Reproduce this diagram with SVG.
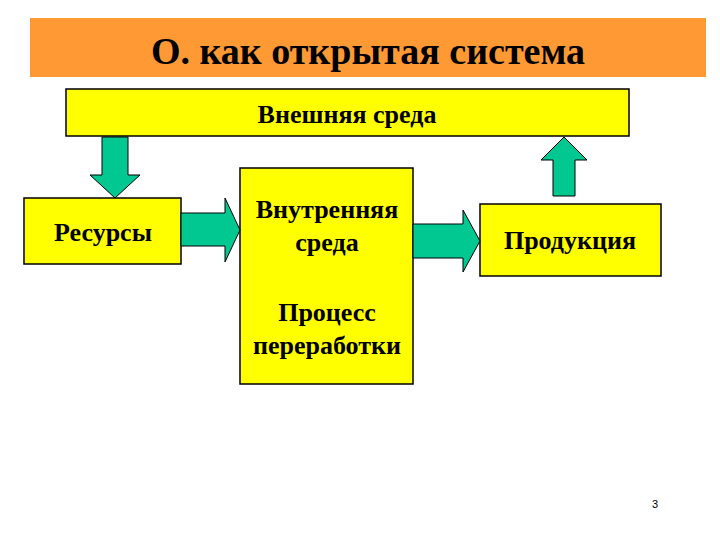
<svg xmlns="http://www.w3.org/2000/svg" width="720" height="540" viewBox="0 0 720 540">
<style>
.box{fill:#ffff00;stroke:#000;stroke-width:1.5}
.arr{fill:#00c890;stroke:#000;stroke-width:1}
text{font-family:"Liberation Serif",serif;font-weight:bold;fill:#000;text-anchor:middle}
</style>
<rect width="720" height="540" fill="#fff"/>
<g id="title"><rect x="30" y="18" width="676" height="59" fill="#ff9933"/><text x="368" y="64" font-size="38">О. как открытая система</text></g>
<g id="env"><rect class="box" x="66" y="89" width="563" height="47"/><text x="347" y="123" font-size="26">Внешняя среда</text></g>
<g id="res"><rect class="box" x="24" y="198" width="157" height="66"/><text x="103" y="241" font-size="26">Ресурсы</text></g>
<g id="inner"><rect class="box" x="240" y="168" width="173" height="216"/>
<text x="327" y="218" font-size="26">Внутренняя</text><text x="327" y="251" font-size="26">среда</text>
<text x="327" y="321" font-size="26">Процесс</text><text x="327" y="354" font-size="26">переработки</text></g>
<g id="prod"><rect class="box" x="480" y="204" width="181" height="72"/><text x="570" y="249" font-size="26">Продукция</text></g>
<g id="connectors">
<polygon class="arr" points="102,137 128,137 128,175 140,175 115,198 90,175 102,175"/>
<polygon class="arr" points="181,213 225,213 225,198 240,230 225,262 225,246 181,246"/>
<polygon class="arr" points="413,224 463,224 463,210 480,241 463,272 463,258 413,258"/>
<polygon class="arr" points="553,196 575,196 575,160 587,160 564,137 541,160 553,160"/>
</g>
<text x="655" y="508" font-size="11" style="font-family:'Liberation Sans',sans-serif;font-weight:normal">3</text>
</svg>
